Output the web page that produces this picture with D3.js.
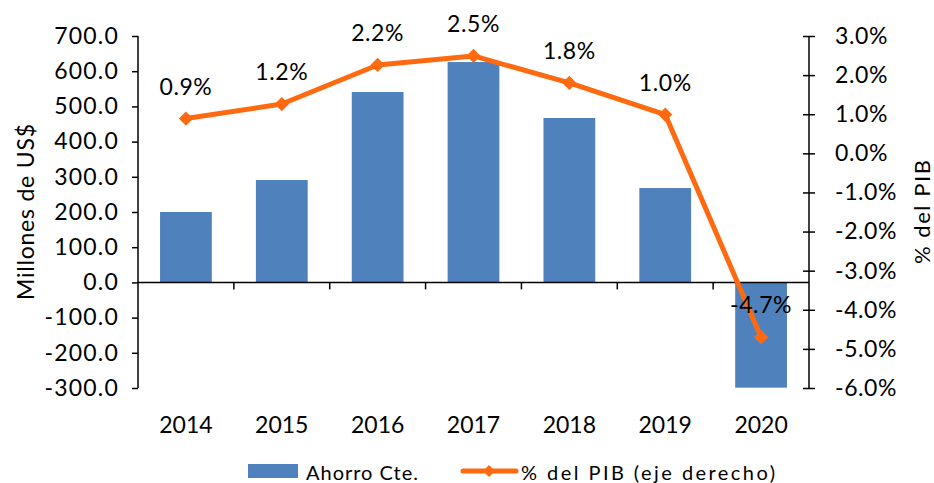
<!DOCTYPE html>
<html>
<head>
<meta charset="utf-8">
<script src="https://cdn.jsdelivr.net/npm/d3@7"></script>
<style>
  body { margin: 0; background: #fff; }
  svg text { font-family: Lato, "Open Sans", sans-serif; fill: #000; }
  .axis path, .axis line { stroke: #000; stroke-width: 1.5; }
</style>
</head>
<body>
<svg class="chart"></svg>
<script>
// data
var years = ['2014', '2015', '2016', '2017', '2018', '2019', '2020'];
var ahorro = [200, 291, 541, 626, 467, 268, -299];          // Millones de US$
var pib = [0.89, 1.26, 2.26, 2.49, 1.80, 0.99, -4.70];      // % del PIB
var pibLabels = ['0.9%', '1.2%', '2.2%', '2.5%', '1.8%', '1.0%', '-4.7%'];
var leftTicks = [-300, -200, -100, 0, 100, 200, 300, 400, 500, 600, 700];
var rightTicks = [-6, -5, -4, -3, -2, -1, 0, 1, 2, 3];

var margin = {top: 36, right: 125, bottom: 95, left: 138},
    width = 934 - margin.left - margin.right,
    height = 483 - margin.top - margin.bottom;

var blue = '#4F81BD', orange = '#FF6A10';

// plain hyphen for negatives, like the original
function fmt1(d) { return d3.format('.1f')(d).replace('\u2212', '-'); }

var chart = d3.select('.chart')
    .attr('width', 934)
    .attr('height', 483);

var g = chart.append('g')
    .attr('transform', 'translate(' + margin.left + ',' + margin.top + ')');

var x = d3.scaleBand().domain(years).range([0, width]).paddingInner(0.46).paddingOuter(0.23),
    xb = d3.scaleBand().domain(years).range([0, width]),
    y = d3.scaleLinear().domain([-300, 700]).range([height, 0]),
    y2 = d3.scaleLinear().domain([-6, 3]).range([height, 0]);

var data = years.map(function(d, i) {
  return {year: d, value: ahorro[i], pct: pib[i], label: pibLabels[i]};
});

// bars
g.selectAll('.bar')
    .data(data)
  .enter().append('rect')
    .attr('class', 'bar')
    .attr('x', function(d) { return x(d.year); })
    .attr('y', function(d) { return y(Math.max(0, d.value)); })
    .attr('width', x.bandwidth())
    .attr('height', function(d) { return Math.abs(y(d.value) - y(0)); })
    .attr('fill', blue);

// category axis on the zero line, ticks between categories
var boundaries = years.slice(1).map(function(d) { return xb(d); });
var xAxisG = g.append('g')
    .attr('class', 'axis')
    .attr('transform', 'translate(0,' + y(0) + ')');
xAxisG.append('line').attr('x1', 0).attr('x2', width).attr('y1', 0).attr('y2', 0);
xAxisG.selectAll('.tk')
    .data(boundaries)
  .enter().append('line')
    .attr('x1', function(d) { return d; }).attr('x2', function(d) { return d; })
    .attr('y1', 0).attr('y2', 7);

// year labels below the plot
g.selectAll('.year')
    .data(years)
  .enter().append('text')
    .attr('x', function(d) { return xb(d) + xb.bandwidth() / 2; })
    .attr('y', height + 45)
    .attr('text-anchor', 'middle')
    .style('font-size', '23px')
    .text(function(d) { return d; });

// left axis
var yAxis = d3.axisLeft(y).tickValues(leftTicks).tickSize(6).tickPadding(13)
    .tickFormat(fmt1);
var yg = g.append('g').attr('class', 'axis').call(yAxis);
yg.selectAll('text').style('font-size', '23px').style('letter-spacing', '1.2px');
yg.select('.domain').attr('d', 'M0,0V' + height);

// right axis, ticks cross the line
var y2Axis = d3.axisRight(y2).tickValues(rightTicks).tickSizeInner(6).tickPadding(20)
    .tickFormat(function(d) { return fmt1(d) + '%'; });
var y2g = g.append('g').attr('class', 'axis')
    .attr('transform', 'translate(' + width + ',0)')
    .call(y2Axis);
y2g.selectAll('.tick line').attr('x1', -6).attr('x2', 6);
y2g.selectAll('text').style('font-size', '23px').style('letter-spacing', '0.6px');
y2g.select('.domain').attr('d', 'M0,0V' + height);

// line series
var line = d3.line()
    .x(function(d) { return xb(d.year) + xb.bandwidth() / 2; })
    .y(function(d) { return y2(d.pct); });

g.append('path')
    .datum(data)
    .attr('fill', 'none')
    .attr('stroke', orange)
    .attr('stroke-width', 5)
    .attr('stroke-linejoin', 'round')
    .attr('d', line);

g.selectAll('.pt')
    .data(data)
  .enter().append('path')
    .attr('d', d3.symbol().type(d3.symbolDiamond2).size(130))
    .attr('transform', function(d) {
      return 'translate(' + (xb(d.year) + xb.bandwidth() / 2) + ',' + y2(d.pct) + ')';
    })
    .attr('fill', orange);

g.selectAll('.lbl')
    .data(data)
  .enter().append('text')
    .attr('x', function(d) { return xb(d.year) + xb.bandwidth() / 2; })
    .attr('y', function(d) { return y2(d.pct) - 24; })
    .attr('text-anchor', 'middle')
    .style('font-size', '23px')
    .style('letter-spacing', '0.6px')
    .text(function(d) { return d.label; });

// axis titles
chart.append('text')
    .attr('transform', 'translate(34,' + (margin.top + height / 2) + ') rotate(-90)')
    .attr('text-anchor', 'middle')
    .style('font-size', '23px')
    .attr('textLength', 176)
    .text('Millones de US$');

chart.append('text')
    .attr('transform', 'translate(930,' + (margin.top + height / 2) + ') rotate(-90)')
    .attr('text-anchor', 'middle')
    .style('font-size', '22px')
    .attr('textLength', 104)
    .text('% del PIB');

// legend
var lg = chart.append('g').attr('transform', 'translate(248,464)');
lg.append('rect').attr('width', 50).attr('height', 14).attr('fill', blue);
lg.append('text').attr('x', 58).attr('y', 16).style('font-size', '20px')
    .attr('textLength', 112).text('Ahorro Cte.');
lg.append('line').attr('x1', 215).attr('x2', 268).attr('y1', 7).attr('y2', 7)
    .attr('stroke', orange).attr('stroke-width', 5).attr('stroke-linecap', 'round');
lg.append('path').attr('d', d3.symbol().type(d3.symbolDiamond2).size(90))
    .attr('transform', 'translate(241,7)').attr('fill', orange);
lg.append('text').attr('x', 273).attr('y', 16).style('font-size', '20px')
    .attr('textLength', 254).text('% del PIB (eje derecho)');
</script>
</body>
</html>
